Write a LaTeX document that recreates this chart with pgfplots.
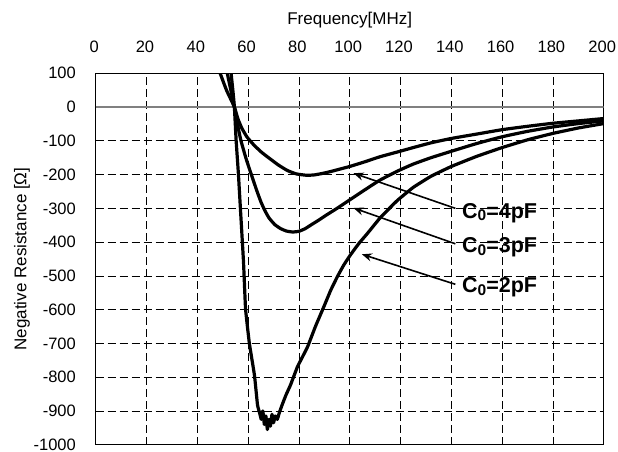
\documentclass[border=0pt]{standalone}
\usepackage{pgfplots}
\pgfplotsset{compat=1.18}
\usepackage{fontspec}
\setmainfont{Liberation Sans}
\usetikzlibrary{arrows.meta}

% measured negative resistance for three values of C0
\pgfplotstableread{
x y
49.0 100
51.5 50
54.6 0
56.0 -35
57.5 -62
59.5 -88
62.0 -110
65.0 -132
68.4 -152
72.0 -172
75.5 -188
79.0 -198
83.0 -202
86.0 -201
89.0 -197
92.5 -191
96.0 -184
100.0 -176
106.0 -162
112.0 -147
119.3 -132
125.0 -120
132.0 -106
140.0 -93
150.0 -80
160.0 -67
170.0 -57
180.0 -48
190.0 -41
200.0 -34
}\cfour

\pgfplotstableread{
x y
51.8 100
53.2 50
54.6 0
55.8 -50
57.2 -100
59.3 -155
61.5 -205
63.3 -245
65.0 -280
66.5 -305
68.2 -328
70.5 -348
72.8 -360
75.0 -367
77.5 -370
80.0 -368
82.5 -360
85.0 -348
88.0 -334
91.0 -319
95.0 -300
100.0 -275
106.0 -245
112.0 -216
119.3 -188
125.0 -169
132.0 -150
140.0 -131
150.0 -108
160.0 -88
170.0 -72
180.0 -59
190.0 -49
200.0 -41
}\cthree

\pgfplotstableread{
x y
53.3 100
54.0 50
54.6 0
55.3 -100
56.2 -200
57.2 -330
58.2 -460
59.0 -598
60.5 -700
62.5 -794
63.7 -882
64.5 -905
65.2 -925
65.8 -900
66.4 -940
67.0 -915
67.6 -955
68.2 -925
68.8 -945
69.4 -910
70.0 -935
70.7 -915
71.5 -925
72.3 -905
73.5 -880
74.9 -853
76.7 -823
79.5 -768
83.3 -712
86.5 -650
89.9 -590
92.5 -543
95.1 -503
97.5 -470
100.0 -441
103.5 -405
106.9 -375
112.0 -328
118.7 -277
125.0 -238
132.0 -205
140.0 -176
150.0 -146
160.0 -120
170.0 -97
180.0 -78
190.0 -62
200.0 -49
}\ctwo

\begin{document}
\begin{tikzpicture}
\begin{axis}[
  name=ax,
  scale only axis,
  width=508pt, height=371.4pt,
  xmin=0, xmax=200, ymin=-1000, ymax=100,
  xtick={0,20,...,200},
  ytick={-1000,-900,...,100},
  xticklabel pos=right,
  major tick length=0pt,
  grid=major,
  major grid style={black, line width=0.7pt, dash pattern=on 8pt off 4pt},
  axis line style={black, line width=0.9pt},
  /pgf/number format/assume math mode=true,
  /pgf/number format/1000 sep={},
  tick label style={font=\fontsize{16.5}{18}\selectfont, inner sep=0pt},
  xticklabel style={anchor=center, yshift=26.6pt, xshift=-1.5pt},
  yticklabel style={anchor=east, xshift=-19.7pt},
  xlabel={Frequency[MHz]},
  xlabel style={at={(axis description cs:0.5,1.143)}, anchor=center,
    font=\fontsize{17}{19}\selectfont},
  ylabel={Negative Resistance [Ω]},
  ylabel style={at={(axis description cs:-0.145,0.5)}, anchor=center,
    font=\fontsize{17}{19}\selectfont},
  clip=true,
]
\addplot[gray, line width=1.6pt, forget plot] coordinates {(0,0) (200,0)};
\addplot[black, line width=3.2pt, line join=round, smooth, tension=0.3] table {\cfour};
\addplot[black, line width=3.2pt, line join=round, smooth, tension=0.3] table {\cthree};
\addplot[black, line width=3.2pt, line join=round, smooth, tension=0.2] table {\ctwo};

\draw[-{Stealth[length=10pt,width=8pt]}, line width=1.6pt]
  (axis cs:141.6,-300) -- (axis cs:101.5,-196);
\draw[-{Stealth[length=10pt,width=8pt]}, line width=1.6pt]
  (axis cs:141.6,-405) -- (axis cs:101.5,-299);
\draw[-{Stealth[length=10pt,width=8pt]}, line width=1.6pt]
  (axis cs:141.6,-525) -- (axis cs:104.8,-436);

\tikzset{clab/.style={anchor=west, inner sep=0pt,
  font=\bfseries\fontsize{21.5}{23}\selectfont}}
\newcommand{\zsub}{\raisebox{-0.22ex}{\fontsize{15.5}{15.5}\selectfont 0}}
\node[clab] at (axis cs:144.2,-314) {C\zsub=4pF};
\node[clab] at (axis cs:144.2,-416) {C\zsub=3pF};
\node[clab] at (axis cs:144.2,-534) {C\zsub=2pF};
\end{axis}
\path[use as bounding box] ([xshift=-95.7pt,yshift=-7.3pt]ax.south west)
  rectangle ([xshift=14.3pt,yshift=73.3pt]ax.north east);
\end{tikzpicture}
\end{document}
